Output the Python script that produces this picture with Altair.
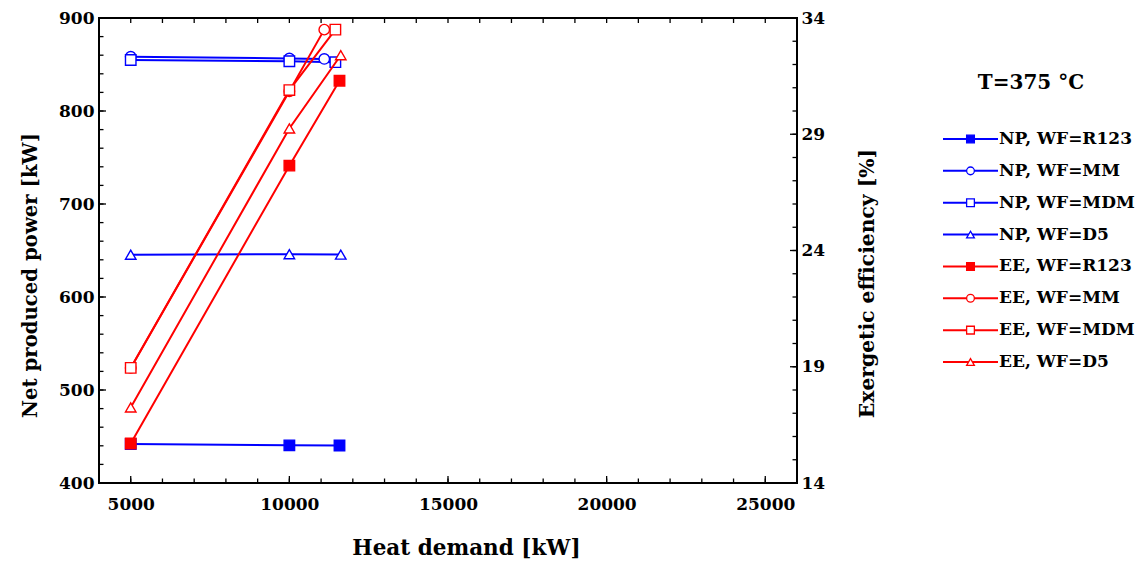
import altair as alt
import pandas as pd

# ---------------- data ----------------
working_fluids = ["R123", "MM", "MDM", "D5"]

heat_demand_R123 = [5000, 10000, 11580]
heat_demand_MM = [5000, 10000, 11100]
heat_demand_MDM = [5000, 10000, 11450]
heat_demand_D5 = [5000, 10000, 11620]

net_power_R123 = [442, 440.5, 440.3]
net_power_MM = [858.3, 856.5, 856.0]
net_power_MDM = [854.8, 853.5, 852.5]
net_power_D5 = [645.5, 646.0, 645.6]

exergetic_eff_R123 = [15.7, 27.65, 31.3]
exergetic_eff_MM = [18.95, 30.85, 33.5]
exergetic_eff_MDM = [18.95, 30.9, 33.5]
exergetic_eff_D5 = [17.25, 29.25, 32.4]

x_major_ticks = [5000, 10000, 15000, 20000, 25000]
x_minor_ticks = list(range(4000, 26001, 1000))
yl_major_ticks = [400, 500, 600, 700, 800, 900]
yl_minor_ticks = list(range(400, 901, 20))
yr_major_ticks = [14, 19, 24, 29, 34]
yr_minor_ticks = list(range(14, 35, 1))

legend_labels = ["NP, WF=R123", "NP, WF=MM", "NP, WF=MDM", "NP, WF=D5",
                 "EE, WF=R123", "EE, WF=MM", "EE, WF=MDM", "EE, WF=D5"]
legend_title = "T=375 °C"

BLUE = "#0000ff"
RED = "#ff0000"
FONT = "DejaVu Serif"
W, H = 698, 465

hd = {"R123": heat_demand_R123, "MM": heat_demand_MM, "MDM": heat_demand_MDM, "D5": heat_demand_D5}
npw = {"R123": net_power_R123, "MM": net_power_MM, "MDM": net_power_MDM, "D5": net_power_D5}
ee = {"R123": exergetic_eff_R123, "MM": exergetic_eff_MM, "MDM": exergetic_eff_MDM, "D5": exergetic_eff_D5}

rows = []
for wf in working_fluids:
    for x, p, e in zip(hd[wf], npw[wf], ee[wf]):
        rows.append({"wf": wf, "hd": x, "np": p, "ee": e})
df = pd.DataFrame(rows)

shape_scale = alt.Scale(domain=working_fluids, range=["square", "circle", "square", "triangle-up"])

x_scale = alt.Scale(domain=[4000, 26000], nice=False, zero=False)
yl_scale = alt.Scale(domain=[400, 900], nice=False, zero=False)
yr_scale = alt.Scale(domain=[14, 34], nice=False, zero=False)

axis_style = dict(labelFont=FONT, titleFont=FONT, labelFontWeight="bold", titleFontWeight="bold",
                  labelColor="black", titleColor="black", labelFontSize=17, format="d",
                  ticks=False, domain=False, grid=False)

x_axis = alt.Axis(title="Heat demand [kW]", values=x_major_ticks, labelPadding=13, titlePadding=25,
                  titleFontSize=21.5, titleX=367, **axis_style)
yl_axis = alt.Axis(title="Net produced power [kW]", values=yl_major_ticks, labelPadding=5,
                   titlePadding=18, orient="left", titleFontSize=19.7, titleY=257, **axis_style)
yr_axis = alt.Axis(title="Exergetic efficiency [%]", values=yr_major_ticks, labelPadding=4,
                   titlePadding=33, orient="right", titleAngle=270, titleBaseline="top",
                   titleFontSize=20.3, titleY=265, **axis_style)

X = alt.X("hd:Q", scale=x_scale, axis=x_axis)

# ---- blue (net power, left axis) ----
blue_lines = alt.Chart(df).mark_line(color=BLUE, strokeWidth=2).encode(
    x=X, y=alt.Y("np:Q", scale=yl_scale, axis=yl_axis), detail="wf:N", order="hd:Q")
blue_pts = alt.Chart(df).mark_point(size=110, strokeWidth=1.4, opacity=1, stroke=BLUE).encode(
    x=X, y=alt.Y("np:Q", scale=yl_scale, axis=yl_axis),
    shape=alt.Shape("wf:N", scale=shape_scale, legend=None),
    fill=alt.Fill("wf:N", scale=alt.Scale(domain=working_fluids, range=[BLUE, "white", "white", "white"]), legend=None))

# ---- ticks (inward) ----
def tick_df(vals):
    return pd.DataFrame({"v": vals})

TK = dict(color="black", strokeWidth=1.3)
xb_major = alt.Chart(tick_df(x_major_ticks)).mark_rule(**TK).encode(
    x=alt.X("v:Q", scale=x_scale, axis=x_axis), y=alt.value(H), y2=alt.value(H - 7))
xb_minor = alt.Chart(tick_df(x_minor_ticks)).mark_rule(**TK).encode(
    x=alt.X("v:Q", scale=x_scale, axis=x_axis), y=alt.value(H), y2=alt.value(H - 4.5))
xt_minor = alt.Chart(tick_df(x_minor_ticks)).mark_rule(**TK).encode(
    x=alt.X("v:Q", scale=x_scale, axis=x_axis), y=alt.value(0), y2=alt.value(5))
yl_major = alt.Chart(tick_df(yl_major_ticks)).mark_rule(**TK).encode(
    y=alt.Y("v:Q", scale=yl_scale, axis=yl_axis), x=alt.value(0), x2=alt.value(7))
yl_minor = alt.Chart(tick_df(yl_minor_ticks)).mark_rule(**TK).encode(
    y=alt.Y("v:Q", scale=yl_scale, axis=yl_axis), x=alt.value(0), x2=alt.value(4.5))
yr_major = alt.Chart(tick_df(yr_major_ticks)).mark_rule(**TK).encode(
    y=alt.Y("v:Q", scale=yr_scale, axis=yr_axis), x=alt.value(W), x2=alt.value(W - 7))
yr_minor = alt.Chart(tick_df(yr_minor_ticks)).mark_rule(**TK).encode(
    y=alt.Y("v:Q", scale=yr_scale, axis=yr_axis), x=alt.value(W), x2=alt.value(W - 4.5))

# ---- red (exergetic efficiency, right axis) ----
red_lines = alt.Chart(df).mark_line(color=RED, strokeWidth=2).encode(
    x=X, y=alt.Y("ee:Q", scale=yr_scale, axis=yr_axis), detail="wf:N", order="hd:Q")
red_pts = alt.Chart(df).mark_point(size=110, strokeWidth=1.4, opacity=1, stroke=RED).encode(
    x=X, y=alt.Y("ee:Q", scale=yr_scale, axis=yr_axis),
    shape=alt.Shape("wf:N", scale=shape_scale, legend=None),
    fill=alt.Fill("wf:N", scale=alt.Scale(domain=working_fluids, range=[RED, "white", "white", "white"]), legend=None))

left = alt.layer(xb_minor, xb_major, xt_minor, yl_minor, yl_major, blue_lines, blue_pts)
right = alt.layer(yr_minor, yr_major, red_lines, red_pts)

main = alt.layer(left, right).resolve_scale(y="independent", fill="independent").properties(
    width=W, height=H, view=alt.ViewBackground(stroke="black", strokeWidth=2))

# ---- legend ----
legend_df = pd.DataFrame({
    "label": legend_labels,
    "color": [BLUE] * 4 + [RED] * 4,
    "shape": ["square", "circle", "square", "triangle-up"] * 2,
    "fill": [BLUE, "white", "white", "white", RED, "white", "white", "white"],
})
ly = alt.Y("label:N", scale=alt.Scale(type="point", domain=legend_labels, range=[121, 344], padding=0),
           axis=None)
lbase = alt.Chart(legend_df).encode(y=ly)
l_rule = lbase.mark_rule(strokeWidth=2).encode(x=alt.value(0), x2=alt.value(55),
                                                color=alt.Color("color:N", scale=None))
l_pts = lbase.mark_point(size=60, strokeWidth=1.3, opacity=1).encode(
    x=alt.value(27.5), shape=alt.Shape("shape:N", scale=None),
    fill=alt.Fill("fill:N", scale=None), stroke=alt.Stroke("color:N", scale=None))
l_text = lbase.mark_text(align="left", baseline="middle", font=FONT, fontSize=17,
                         fontWeight="bold", color="black").encode(x=alt.value(56), text="label:N")
l_title = alt.Chart(pd.DataFrame({"t": [legend_title]})).mark_text(
    align="center", baseline="middle", font=FONT, fontSize=20, fontWeight="bold", color="black"
).encode(x=alt.value(88), y=alt.value(65), text="t:N")

legend = alt.layer(l_title, l_rule, l_pts, l_text).properties(
    width=200, height=380, view=alt.ViewBackground(stroke="transparent"))

chart = alt.hconcat(main, legend, spacing=62).properties(
    padding={"left": 19, "top": 8, "right": 0, "bottom": 0}, background="white"
)

chart.save("out.html", embed_options={"renderer": "svg", "actions": False})
